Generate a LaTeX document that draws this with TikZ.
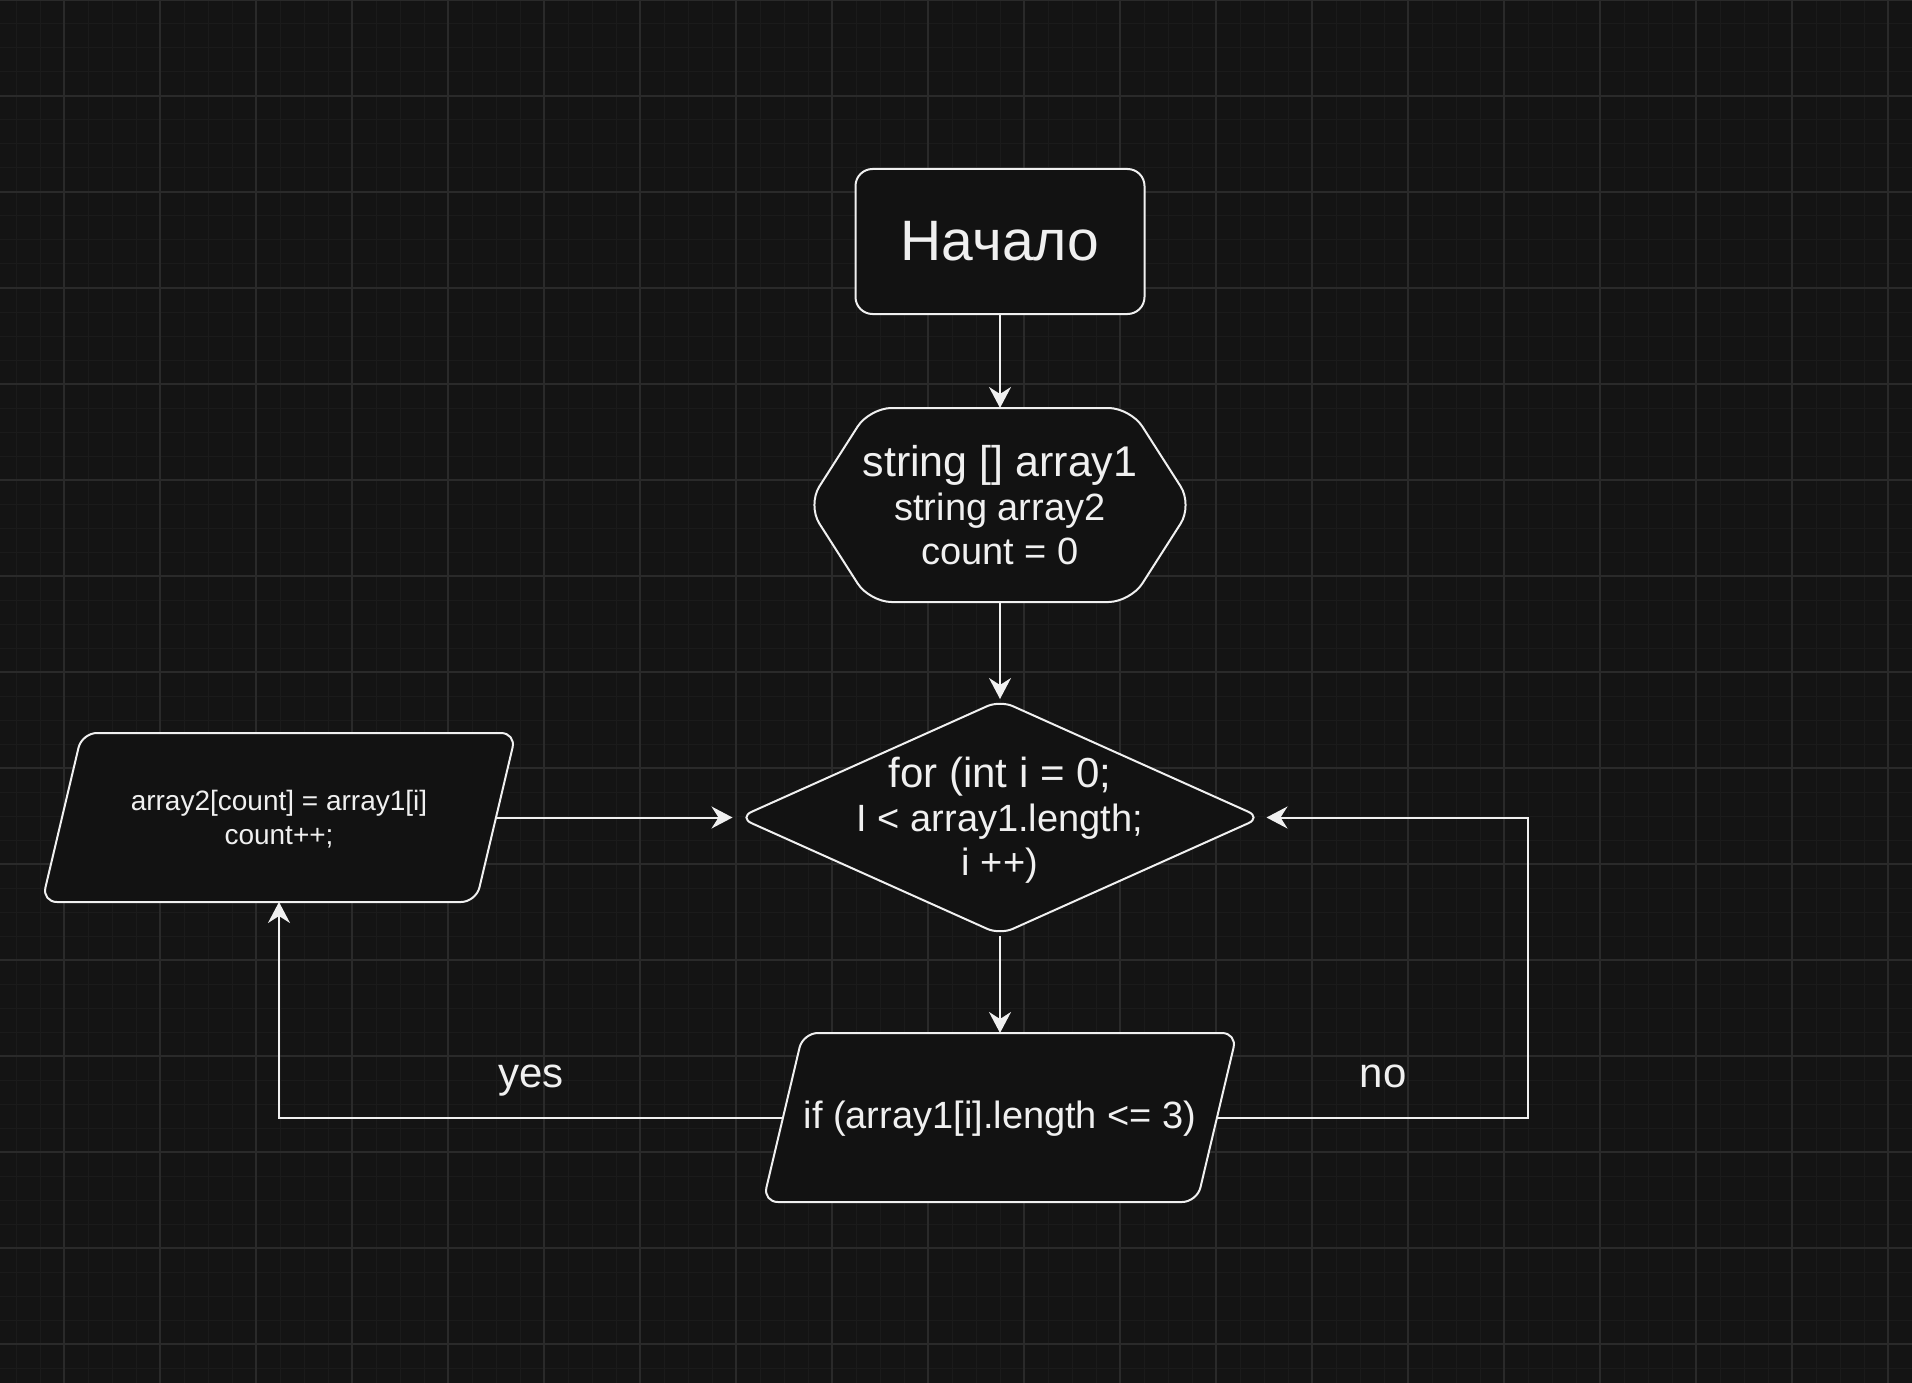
\documentclass[tikz,border=0pt]{standalone}
\usepackage{fontspec}
\setmainfont{Liberation Sans}
\usetikzlibrary{arrows.meta,calc,shapes.geometric}
\definecolor{bgc}{HTML}{141414}
\definecolor{minorc}{HTML}{1B1B1B}
\definecolor{majorc}{HTML}{2A2A2A}
\definecolor{fg}{HTML}{F0F0F0}
\definecolor{shapefill}{HTML}{121212}
\tikzset{
  shapeline/.style={draw=fg, line width=2pt, fill=shapefill},
  startbox/.style={shapeline, rectangle, rounded corners=17pt, minimum width=289pt,
    minimum height=145pt, inner sep=0pt, text=fg, font=\fontsize{57}{68}\selectfont},
  holder/.style={rectangle, inner sep=0pt, outer sep=0pt},
  txt/.style={rectangle, inner sep=0pt, text=fg, align=center},
  decision/.style={shapeline, diamond, minimum width=523pt, minimum height=235pt,
    inner sep=0pt, rounded corners=14pt},
  flow/.style={draw=fg, line width=2pt, -{Stealth[length=21pt,width=22pt,inset=7pt]}},
  lbl/.style={text=fg, inner sep=0pt, anchor=base, font=\fontsize{42}{50}\selectfont},
  minorline/.style={draw=minorc, line width=1pt},
  majorline/.style={draw=majorc, line width=1.5pt},
}
\begin{document}
\begin{tikzpicture}[x=1pt,y=-1pt]
\useasboundingbox (0,0) rectangle (1912,1383);
\fill[bgc] (0,0) rectangle (1912,1383);
% grid
\foreach \gx in {16,40,...,1912} \draw[minorline] (\gx,0) -- (\gx,1383);
\foreach \gy in {0,24,...,1383} \draw[minorline] (0,\gy) -- (1912,\gy);
\foreach \gx in {64,160,...,1912} \draw[majorline] (\gx,0) -- (\gx,1383);
\foreach \gy in {0,96,...,1383} \draw[majorline] (0,\gy) -- (1912,\gy);

% start
\node[startbox] (start) at (1000,241.5) {Начало};

% hexagon (preparation)
\node[holder, minimum width=385pt, minimum height=194pt] (init) at (1000,505) {};
\draw[shapeline, rounded corners=22pt]
  (init.north) -- ($(init.north east)+(-62,0)$) -- (init.east)
  -- ($(init.south east)+(-62,0)$) -- ($(init.south west)+(62,0)$)
  -- (init.west) -- ($(init.north west)+(62,0)$) -- cycle;
\node[txt, font=\fontsize{38}{44}\selectfont] (initText) at (1000,505)
  {{\fontsize{43}{44}\selectfont string [] array1}\\string array2\\count = 0};

% loop decision
\node[decision] (loop) at (1000,817.5) {};
\node[txt, font=\fontsize{38}{44}\selectfont] (loopText) at (1000,820)
  {{\fontsize{42}{44}\selectfont for (int i = 0;}\\I < array1.length;\\i ++)};

% action parallelogram
\node[holder, minimum width=434pt, minimum height=169pt] (act) at (279,817.5) {};
\draw[shapeline, rounded corners=15pt]
  ($(act.north)+(20,0)$) -- ($(act.north east)+(20,0)$) -- ($(act.south east)+(-20,0)$)
  -- ($(act.south west)+(-20,0)$) -- ($(act.north west)+(20,0)$) -- cycle;
\node[txt, font=\fontsize{28}{34}\selectfont] (actText) at (279,819)
  {array2[count] = array1[i]\\count++;};

% condition parallelogram
\node[holder, minimum width=434pt, minimum height=169pt] (cond) at (1000,1117.5) {};
\draw[shapeline, rounded corners=15pt]
  ($(cond.north)+(20,0)$) -- ($(cond.north east)+(20,0)$) -- ($(cond.south east)+(-20,0)$)
  -- ($(cond.south west)+(-20,0)$) -- ($(cond.north west)+(20,0)$) -- cycle;
\node[txt, font=\fontsize{38}{44}\selectfont] (condText) at (1000,1119)
  {if (array1[i].length <= 3)};

% connectors
\draw[flow] (start.south) -- (init.north);
\draw[flow] (init.south) -- (loop.north);
\draw[flow] (loop.south) -- (cond.north);
\draw[flow, shorten >=5pt] (act.east) -- (loop.west);
\draw[flow] (cond.west) -| (act.south);
\draw[flow, shorten >=4pt] (cond.east) -- ++(311,0) |- (loop.east);

% labels
\node[lbl] (yesLbl) at (531,1087) {yes};
\node[lbl] (noLbl) at (1383,1087) {no};
\end{tikzpicture}
\end{document}
